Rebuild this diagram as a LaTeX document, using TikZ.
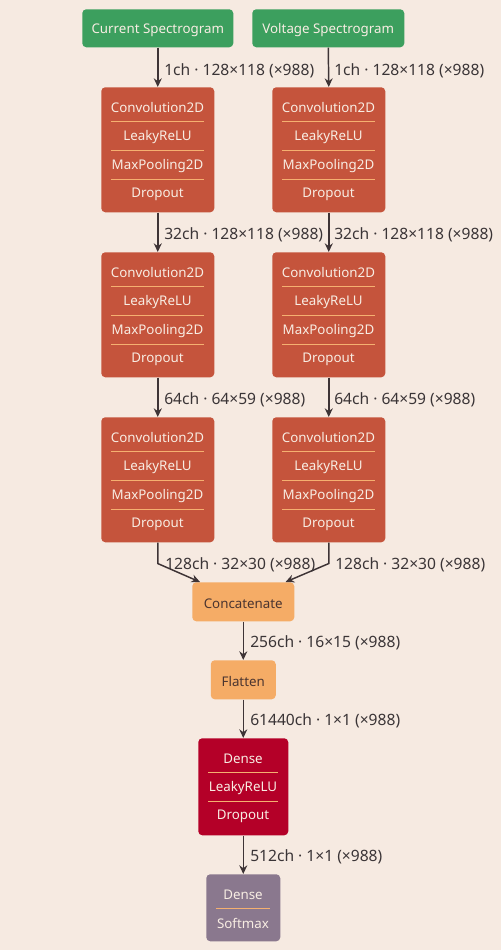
\documentclass[tikz,border=0pt]{standalone}
\usepackage{fontspec}
\setmainfont{Noto Sans}
\usetikzlibrary{arrows.meta,calc}
\definecolor{bg}{HTML}{F6EAE1}
\definecolor{ingreen}{HTML}{3C9F5E}
\definecolor{convred}{HTML}{C5543C}
\definecolor{concorange}{HTML}{F5AC66}
\definecolor{densered}{HTML}{B40028}
\definecolor{softgray}{HTML}{8A788E}
\definecolor{sepline}{HTML}{F5B070}
\definecolor{boxtext}{HTML}{F8EDE3}
\definecolor{darktext}{HTML}{4B3530}
\definecolor{arrowc}{HTML}{3E3436}
\definecolor{labelc}{HTML}{3A3436}
\tikzset{
  lay/.style={rounded corners=3pt, inner sep=0pt, anchor=north west},
  rowtext/.style={text=boxtext, font=\fontsize{10pt}{12pt}\selectfont, inner sep=0pt, yshift=-1.3pt},
  darkrow/.style={text=darktext, font=\fontsize{10pt}{12pt}\selectfont, inner sep=0pt, yshift=-1.3pt},
  sep/.style={draw=sepline, line width=0.6pt},
  conn/.style={draw=arrowc, line width=1.1pt, -{Stealth[length=6.5pt,width=6pt]}},
  lbl/.style={text=labelc, font=\fontsize{11.7pt}{13pt}\selectfont, inner sep=0pt, anchor=west, yshift=-1.2pt}
}
\begin{document}
\begin{tikzpicture}[x=0.75pt,y=-0.75pt]
\fill[bg] (0,0) rectangle (501,950);
\useasboundingbox (0,0) rectangle (501,950);

% inputs
\node[lay, fill=ingreen, minimum width=113.25pt, minimum height=28.5pt] (cur) at (82,9) {};
\node[rowtext] (curt) at (cur.center) {Current Spectrogram};
\node[lay, fill=ingreen, minimum width=114pt, minimum height=28.5pt] (vol) at (252,9) {};
\node[rowtext] (volt) at (vol.center) {Voltage Spectrogram};

% conv blocks
\foreach \side/\bx in {l/101, r/272} {
  \foreach \k/\by in {1/87, 2/252, 3/417} {
    \node[lay, fill=convred, minimum width=84.75pt, minimum height=93.75pt] (c\k\side) at (\bx,\by) {};
    \node[rowtext] (c\k\side a) at (\bx+56.5,\by+19) {Convolution2D};
    \node[rowtext] (c\k\side b) at (\bx+56.5,\by+48) {LeakyReLU};
    \node[rowtext] (c\k\side c) at (\bx+56.5,\by+77) {MaxPooling2D};
    \node[rowtext] (c\k\side d) at (\bx+56.5,\by+106) {Dropout};
    \foreach \s in {34,63,92} {
      \draw[sep] (\bx+10,\by+\s) -- (\bx+103,\by+\s);
    }
  }
}

% concatenate, flatten
\node[lay, fill=concorange, minimum width=76.5pt, minimum height=29.25pt] (cat) at (192,582) {};
\node[darkrow] (catt) at (cat.center) {Concatenate};
\node[lay, fill=concorange, minimum width=48.75pt, minimum height=29.25pt] (fl) at (210.5,660) {};
\node[darkrow] (flt) at (fl.center) {Flatten};

% dense
\node[lay, fill=densered, minimum width=67.5pt, minimum height=72.75pt] (den) at (198,738) {};
\node[rowtext] (dena) at (243,757) {Dense};
\node[rowtext] (denb) at (243,786) {LeakyReLU};
\node[rowtext] (denc) at (243,815) {Dropout};
\draw[sep] (208,772) -- (278,772);
\draw[sep] (208,801) -- (278,801);

% softmax
\node[lay, fill=softgray, minimum width=55.5pt, minimum height=50.25pt] (sm) at (206,874) {};
\node[rowtext] (sma) at (243,893) {Dense};
\node[rowtext] (smb) at (243,922) {Softmax};
\draw[sep] (216,908) -- (270,908);

% connectors
\draw[conn] (cur.south) -- (c1l.north);
\draw[conn] (vol.south) -- (c1r.north);
\draw[conn] (c1l.south) -- (c2l.north);
\draw[conn] (c1r.south) -- (c2r.north);
\draw[conn] (c2l.south) -- (c3l.north);
\draw[conn] (c2r.south) -- (c3r.north);
\coordinate (catinl) at ($(cat.north west)+(8,0)$);
\coordinate (catinr) at ($(cat.north east)+(-9,0)$);
\draw[conn] (c3l.south) -- ++(0,21) -- (catinl);
\draw[conn] (c3r.south) -- ++(0,21) -- (catinr);
\draw[conn] (cat.south) -- (fl.north);
\draw[conn] (fl.south) -- (den.north);
\draw[conn] (den.south) -- (sm.north);

% labels
\node[lbl] (l1) at (164,69) {1ch · 128×118 (×988)};
\node[lbl] (l2) at (334,69) {1ch · 128×118 (×988)};
\node[lbl] (l3) at (164,233) {32ch · 128×118 (×988)};
\node[lbl] (l4) at (334,233) {32ch · 128×118 (×988)};
\node[lbl] (l5) at (164,398) {64ch · 64×59 (×988)};
\node[lbl] (l6) at (334,398) {64ch · 64×59 (×988)};
\node[lbl] (l7) at (165,563) {128ch · 32×30 (×988)};
\node[lbl] (l8) at (335,563) {128ch · 32×30 (×988)};
\node[lbl] (l9) at (250,641) {256ch · 16×15 (×988)};
\node[lbl] (l10) at (250,719) {61440ch · 1×1 (×988)};
\node[lbl] (l11) at (250,855) {512ch · 1×1 (×988)};
\end{tikzpicture}
\end{document}
